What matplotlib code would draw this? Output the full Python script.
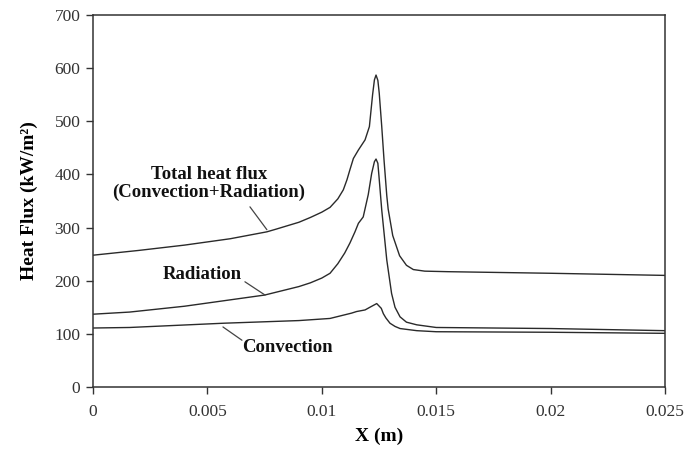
import matplotlib
matplotlib.use("Agg")
import matplotlib.pyplot as plt

# data
x_total = [0, 0.002, 0.004, 0.006, 0.0076, 0.008, 0.009, 0.0095, 0.01, 0.01036, 0.0107,
           0.01094, 0.0111, 0.01123, 0.01138, 0.0116, 0.01189, 0.01208, 0.01222, 0.0123,
           0.01237, 0.01245, 0.01251, 0.01262, 0.01272, 0.01284, 0.0129, 0.0131, 0.0134,
           0.0137, 0.014, 0.0145, 0.0155, 0.02, 0.025]
y_total = [248, 257, 267, 279, 292, 297, 310, 319, 329, 338, 354,
           371, 390, 409, 430, 446, 465, 490, 550, 578,
           587, 577, 553, 490, 427, 360, 335, 285, 247,
           229, 221, 218, 217, 214, 210]

x_rad = [0, 0.0016, 0.004, 0.0075, 0.009, 0.0095, 0.01, 0.01036, 0.0107, 0.011, 0.01123,
         0.01145, 0.0116, 0.01181, 0.01203, 0.01218, 0.0123, 0.01237, 0.01245, 0.0125,
         0.01262, 0.01284, 0.01305, 0.0132, 0.01342, 0.0137, 0.01415, 0.015, 0.02, 0.025]
y_rad = [137, 141, 152, 173, 189, 196, 205, 214, 232, 252, 271,
         292, 308, 320, 362, 402, 424, 429, 421, 396,
         333, 239, 176, 150, 132, 122, 117, 112, 110, 106]

x_conv = [0, 0.0016, 0.0057, 0.009, 0.01036, 0.0113, 0.01152, 0.01189, 0.0121, 0.0124,
          0.0126, 0.01269, 0.0128, 0.01298, 0.0132, 0.01342, 0.01415, 0.015, 0.02, 0.025]
y_conv = [111, 112, 120, 125, 129, 139, 142, 145, 150, 157,
          148, 138, 130, 120, 114, 110, 106, 104, 103, 101]

x_ticks = [0, 0.005, 0.01, 0.015, 0.02, 0.025]
x_ticklabels = ['0', '0.005', '0.01', '0.015', '0.02', '0.025']
y_ticks = [0, 100, 200, 300, 400, 500, 600, 700]

serif = 'Liberation Serif'
line_c = '#2a2a2a'

fig = plt.figure(figsize=(6.86, 4.5), dpi=100)
ax = fig.add_axes([93 / 686, 1 - 387 / 450, 572 / 686, 372 / 450])

ax.plot(x_total, y_total, color=line_c, lw=1.0)
ax.plot(x_rad, y_rad, color=line_c, lw=1.0)
ax.plot(x_conv, y_conv, color=line_c, lw=1.0)

ax.set_xlim(0, 0.025)
ax.set_ylim(0, 700)
ax.set_xticks(x_ticks)
ax.set_xticklabels(x_ticklabels)
ax.set_yticks(y_ticks)
ax.tick_params(direction='out', length=5, width=1, color='#333333',
               labelsize=12.5, labelcolor='#333333')
ax.tick_params(axis='x', pad=7)
ax.tick_params(axis='y', pad=4)
for lab in ax.get_xticklabels() + ax.get_yticklabels():
    lab.set_family(serif)
for s in ax.spines.values():
    s.set_color('#333333')
    s.set_linewidth(1.1)

ax.set_xlabel('X (m)', family=serif, fontweight='bold', fontsize=14, labelpad=6)
ax.set_ylabel('Heat Flux (kW/m²)', family=serif, fontweight='bold', fontsize=14, labelpad=12)

txt = dict(family=serif, fontweight='bold', fontsize=13.5, color='#111111',
           ha='center', va='center')
arr = dict(arrowstyle='-', color='#444444', lw=0.9, shrinkA=0, shrinkB=0)

ax.annotate('Total heat flux\n(Convection+Radiation)', xy=(0.0076, 296),
            xytext=(0.00507, 383), textcoords='data', linespacing=1.05, **txt)
ax.annotate('', xy=(0.0076, 296), xytext=(0.00686, 339), arrowprops=arr)

ax.annotate('Radiation', xy=(0.00752, 173), xytext=(0.00479, 211), **txt)
ax.annotate('', xy=(0.00752, 173), xytext=(0.00664, 198), arrowprops=arr)

ax.annotate('Convection', xy=(0.00568, 113), xytext=(0.0085, 75), **txt)
ax.annotate('', xy=(0.00568, 113), xytext=(0.00651, 88), arrowprops=arr)

fig.savefig('out.png', dpi=100)
